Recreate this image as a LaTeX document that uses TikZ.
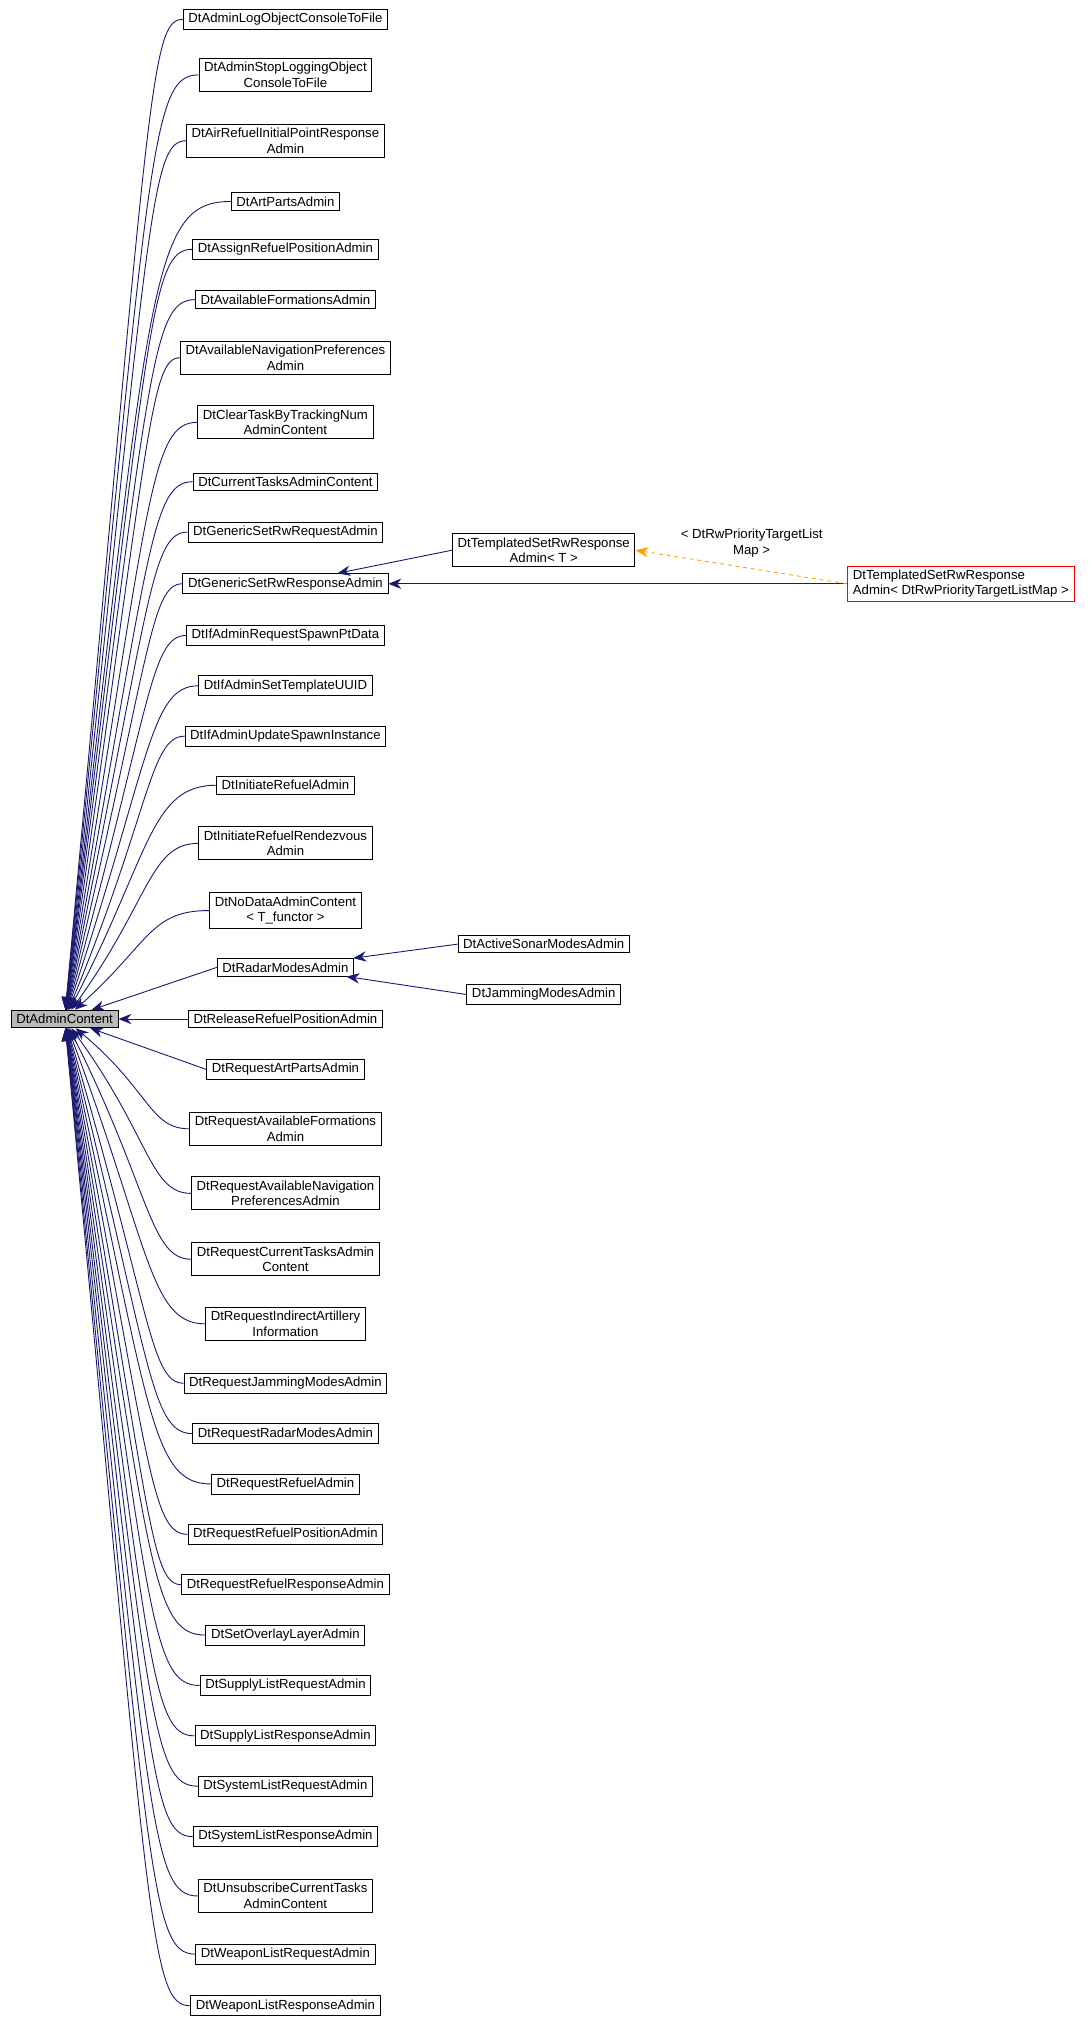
\documentclass[tikz,border=0pt]{standalone}
\usepackage{fontspec}
\setmainfont{Liberation Sans}
\usetikzlibrary{arrows.meta}
\definecolor{mb}{RGB}{25,25,112}
\definecolor{org}{RGB}{255,165,0}
\begin{document}
\begin{tikzpicture}[x=1pt,y=-1pt,
 box/.style={draw=black,line width=0.7pt,fill=white,inner xsep=4pt,inner ysep=3pt,align=center,font=\fontsize{10.2}{12}\selectfont},
 e/.style={draw=mb,line width=0.7pt,{Stealth[length=10pt,width=8pt]}-}]
\useasboundingbox (0,0) rectangle (845,1571);
\node[box,fill=gray!55] (p) at (50,789) {DtAdminContent};
\foreach \n/\y/\t/\d in {
a1/15/{DtAdminLogObjectConsoleToFile}/60,
a2/58/{DtAdminStopLoggingObject\\ConsoleToFile}/60,
a3/109/{DtAirRefuelInitialPointResponse\\Admin}/60,
a4/156/{DtArtPartsAdmin}/60,
a5/193/{DtAssignRefuelPositionAdmin}/60,
a6/232/{DtAvailableFormationsAdmin}/60,
a7/277/{DtAvailableNavigationPreferences\\Admin}/60,
a8/327/{DtClearTaskByTrackingNum\\AdminContent}/60,
a9/373/{DtCurrentTasksAdminContent}/60,
a10/412/{DtGenericSetRwRequestAdmin}/60,
a11/452/{DtGenericSetRwResponseAdmin}/60,
a12/492/{DtIfAdminRequestSpawnPtData}/60,
a13/531/{DtIfAdminSetTemplateUUID}/60,
a14/570/{DtIfAdminUpdateSpawnInstance}/60,
a15/608/{DtInitiateRefuelAdmin}/55,
a16/653/{DtInitiateRefuelRendezvous\\Admin}/45,
a17/705/{DtNoDataAdminContent\\< T\_functor >}/25,
a18/749/{DtRadarModesAdmin}/0,
a19/789/{DtReleaseRefuelPositionAdmin}/0,
a20/828/{DtRequestArtPartsAdmin}/0,
a21/874/{DtRequestAvailableFormations\\Admin}/-30,
a22/924/{DtRequestAvailableNavigation\\PreferencesAdmin}/-45,
a23/975/{DtRequestCurrentTasksAdmin\\Content}/-55,
a24/1025/{DtRequestIndirectArtillery\\Information}/-60,
a25/1071/{DtRequestJammingModesAdmin}/-60,
a26/1110/{DtRequestRadarModesAdmin}/-60,
a27/1149/{DtRequestRefuelAdmin}/-60,
a28/1188/{DtRequestRefuelPositionAdmin}/-60,
a29/1227/{DtRequestRefuelResponseAdmin}/-60,
a30/1266/{DtSetOverlayLayerAdmin}/-60,
a31/1305/{DtSupplyListRequestAdmin}/-60,
a32/1344/{DtSupplyListResponseAdmin}/-60,
a33/1383/{DtSystemListRequestAdmin}/-60,
a34/1422/{DtSystemListResponseAdmin}/-60,
a35/1468/{DtUnsubscribeCurrentTasks\\AdminContent}/-60,
a36/1513/{DtWeaponListRequestAdmin}/-60,
a37/1553/{DtWeaponListResponseAdmin}/-60}{
 \node[box] (\n) at (221,\y) {\t};
 \ifnum\d=0
  \path[e] (p) -- (\n.west);
 \else
  \path[e] (p) .. controls (116,\y+\d) and (116,\y) .. (\n.west);
 \fi
}
\node[box] (t) at (421,426) {DtTemplatedSetRwResponse\\Admin< T >};
\node[box,draw=red,align=left] (r) at (744,452) {DtTemplatedSetRwResponse\\Admin< DtRwPriorityTargetListMap >};
\node[box] (s) at (421,731) {DtActiveSonarModesAdmin};
\node[box] (j) at (421,770) {DtJammingModesAdmin};
\path[e] (a11) -- (t.west);
\path[e] (a11.east) -- (r.west);
\path[e] (a18) -- (s.west);
\path[e] (a18) -- (j.west);
\path[draw=org,dashed,line width=0.7pt,{Stealth[length=10pt,width=8pt]}-] (t.east) -- node[above=4pt,font=\fontsize{10.2}{12}\selectfont,align=center,text=black,xshift=8pt]{< DtRwPriorityTargetList\\Map >} (r.west);
\end{tikzpicture}
\end{document}
